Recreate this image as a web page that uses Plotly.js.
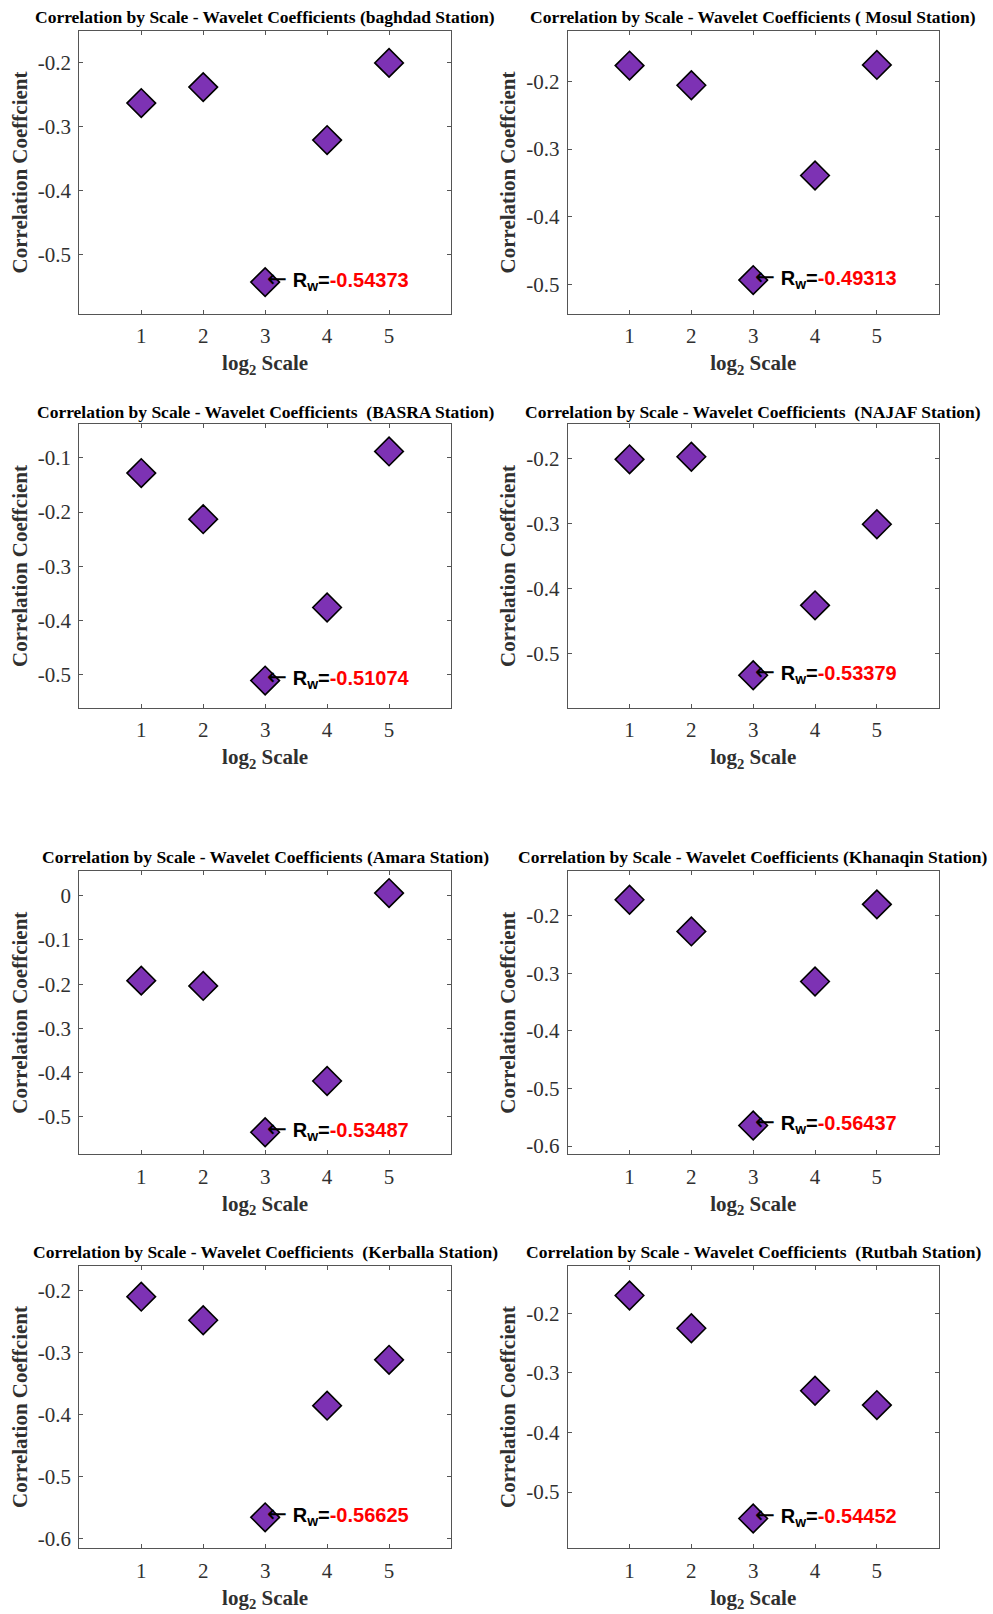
<!DOCTYPE html>
<html>
<head>
<meta charset="utf-8">
<script src="https://cdn.plot.ly/plotly-3.0.1.min.js"></script>
<style>
  html, body { margin: 0; padding: 0; background: #ffffff; }
  #chart { width: 993px; height: 1614px; }
</style>
</head>
<body>
<div id="chart"></div>
<script>
// ---------- DATA ----------
const scales = [1, 2, 3, 4, 5];
const xTickLabels = ["1", "2", "3", "4", "5"];

const stationTitles = [
  "Correlation by Scale - Wavelet Coefficients (baghdad Station)",
  "Correlation by Scale - Wavelet Coefficients ( Mosul Station)",
  "Correlation by Scale - Wavelet Coefficients  (BASRA Station)",
  "Correlation by Scale - Wavelet Coefficients  (NAJAF Station)",
  "Correlation by Scale - Wavelet Coefficients (Amara Station)",
  "Correlation by Scale - Wavelet Coefficients (Khanaqin Station)",
  "Correlation by Scale - Wavelet Coefficients  (Kerballa Station)",
  "Correlation by Scale - Wavelet Coefficients  (Rutbah Station)"
];

const baghdad  = [-0.263, -0.238, -0.54373, -0.321, -0.200];
const mosul    = [-0.177, -0.206, -0.49313, -0.339, -0.176];
const basra    = [-0.128, -0.213, -0.51074, -0.376, -0.088];
const najaf    = [-0.201, -0.197, -0.53379, -0.426, -0.301];
const amara    = [-0.192, -0.204, -0.53487, -0.419, 0.006];
const khanaqin = [-0.172, -0.227, -0.56437, -0.314, -0.180];
const kerballa = [-0.210, -0.248, -0.56625, -0.386, -0.312];
const rutbah   = [-0.170, -0.225, -0.54452, -0.330, -0.354];

const rwValues = [-0.54373, -0.49313, -0.51074, -0.53379, -0.53487, -0.56437, -0.56625, -0.54452];
const rwScale = 3;

const yTicksBaghdad  = [-0.5, -0.4, -0.3, -0.2];
const yTicksMosul    = [-0.5, -0.4, -0.3, -0.2];
const yTicksBasra    = [-0.5, -0.4, -0.3, -0.2, -0.1];
const yTicksNajaf    = [-0.5, -0.4, -0.3, -0.2];
const yTicksAmara    = [-0.5, -0.4, -0.3, -0.2, -0.1, 0];
const yTicksKhanaqin = [-0.6, -0.5, -0.4, -0.3, -0.2];
const yTicksKerballa = [-0.6, -0.5, -0.4, -0.3, -0.2];
const yTicksRutbah   = [-0.5, -0.4, -0.3, -0.2];

const series = [baghdad, mosul, basra, najaf, amara, khanaqin, kerballa, rutbah];
const yTicks = [yTicksBaghdad, yTicksMosul, yTicksBasra, yTicksNajaf, yTicksAmara, yTicksKhanaqin, yTicksKerballa, yTicksRutbah];

// ---------- LAYOUT GEOMETRY (pixels) ----------
const W = 993, H = 1614;
const colX = [[79.3, 451.0], [567.7, 938.7]];
const rowY = [[31, 314], [424.3, 707.7], [871, 1154.3], [1265.7, 1548.3]];
const titleY = [16.7, 411.7, 856.7, 1251.7];

const serif = "'Liberation Serif', 'Times New Roman', Times, serif";
const sans = "'Liberation Sans', Arial, Helvetica, sans-serif";
const markerColor = "#7D32B4";

const data = [];
const layout = {
  width: W, height: H,
  margin: {l: 0, r: 0, t: 0, b: 0},
  paper_bgcolor: "#ffffff",
  plot_bgcolor: "#ffffff",
  showlegend: false,
  annotations: []
};

for (let i = 0; i < 8; i++) {
  const col = i % 2, row = Math.floor(i / 2);
  const xs = i === 0 ? "x" : "x" + (i + 1);
  const ys = i === 0 ? "y" : "y" + (i + 1);
  const xk = i === 0 ? "xaxis" : "xaxis" + (i + 1);
  const yk = i === 0 ? "yaxis" : "yaxis" + (i + 1);
  const vals = series[i];

  data.push({
    type: "scatter", mode: "markers",
    x: scales, y: vals, xaxis: xs, yaxis: ys,
    marker: {symbol: "diamond", size: 22, color: markerColor, line: {color: "#000000", width: 1.6}},
    hoverinfo: "x+y"
  });

  const ymin = Math.min(...vals), ymax = Math.max(...vals);
  const axisCommon = {
    showline: true, linecolor: "#555555", linewidth: 1, mirror: "ticks",
    ticks: "inside", ticklen: 4, tickwidth: 1, tickcolor: "#555555",
    showgrid: false, zeroline: false,
    tickfont: {family: serif, size: 21, color: "#303030"},
    ticklabelstandoff: 3,
    fixedrange: true
  };

  layout[xk] = Object.assign({}, axisCommon, {
    anchor: ys,
    domain: [colX[col][0] / W, colX[col][1] / W],
    range: [0, 6],
    tickvals: scales, ticktext: xTickLabels,
    title: {text: "log<sub>2</sub> Scale", font: {family: serif, size: 21, color: "#303030", weight: "bold"}, standoff: 8}
  });
  layout[yk] = Object.assign({}, axisCommon, {
    anchor: xs,
    domain: [1 - rowY[row][1] / H, 1 - rowY[row][0] / H],
    range: [ymin - 0.05, ymax + 0.05],
    tickvals: yTicks[i], ticktext: yTicks[i].map(v => String(v)),
    title: {text: "Correlation Coeffcient", font: {family: serif, size: 21, color: "#303030", weight: "bold"}, standoff: 4}
  });

  // panel title
  layout.annotations.push({
    xref: "paper", yref: "paper",
    x: (colX[col][0] + colX[col][1]) / 2 / W,
    y: 1 - titleY[row] / H,
    xanchor: "center", yanchor: "middle",
    text: "<b>" + stationTitles[i] + "</b>",
    showarrow: false,
    font: {family: serif, size: 17.5, color: "#000000"}
  });

  // Rw label
  layout.annotations.push({
    xref: xs, yref: ys,
    x: rwScale, y: rwValues[i],
    xanchor: "left", yanchor: "middle", yshift: 3,
    text: "<span style='font-family:DejaVu Sans;font-size:24px'>\u2190</span> <b>R<sub>w</sub>=<span style='color:#ff0000'>" + String(rwValues[i]) + "</span></b>",
    showarrow: false,
    font: {family: sans, size: 20, color: "#000000"}
  });
}

Plotly.newPlot("chart", data, layout, {displayModeBar: false, staticPlot: true});
</script>
</body>
</html>
